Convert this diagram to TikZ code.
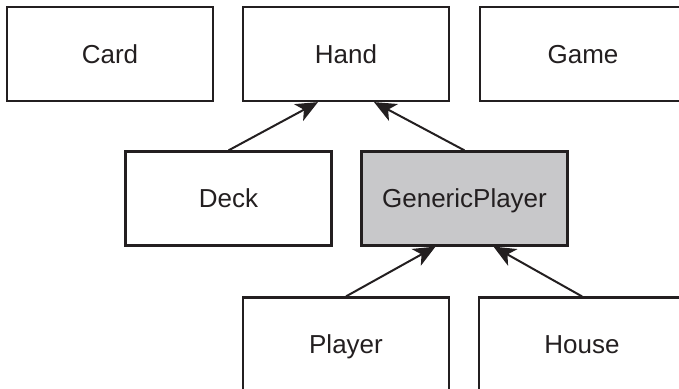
\documentclass[tikz,border=0pt]{standalone}
\usepackage{fontspec}
\setmainfont{Liberation Sans}
\usetikzlibrary{arrows.meta}
\definecolor{boxgray}{RGB}{200,200,202}
\definecolor{ink}{RGB}{35,31,32}
\begin{document}
\begin{tikzpicture}[x=0.5pt, y=-0.5pt, line join=miter, font=\fontsize{13}{15}\selectfont, >={Stealth[length=11pt, width=9.5pt, inset=3pt]}]
	\tikzset{class box/.style={draw=ink, line width=1.1pt, minimum width=103pt, minimum height=47pt, inner sep=0pt, text height=10.6pt, text depth=1.4pt, text=ink}}
	\tikzset{base class/.style={class box, fill=boxgray}}
	\tikzset{inherit/.style={->, draw=ink, fill=ink, line width=1pt}}
	\useasboundingbox (0,0) rectangle (679,389);
	\clip (0,0) rectangle (679,389);
	\node[class box] (card) at (110,54) {Card};
	\node[class box] (hand) at (346,54) {Hand};
	\node[class box] (game) at (583,54) {Game};
	\node[class box] (deck) at (228.5,198.5) {Deck};
	\node[base class] (generic) at (464.5,198.5) {GenericPlayer};
	\node[class box] (player) at (346,344.5) {Player};
	\node[class box] (house) at (582,344.5) {House};
	\draw[inherit] (deck.north) -- ([xshift=-14pt]hand.south);
	\draw[inherit] (generic.north) -- ([xshift=14pt]hand.south);
	\draw[inherit] (player.north) -- ([xshift=-14.5pt]generic.south);
	\draw[inherit] (house.north) -- ([xshift=14.5pt]generic.south);
\end{tikzpicture}
\end{document}
